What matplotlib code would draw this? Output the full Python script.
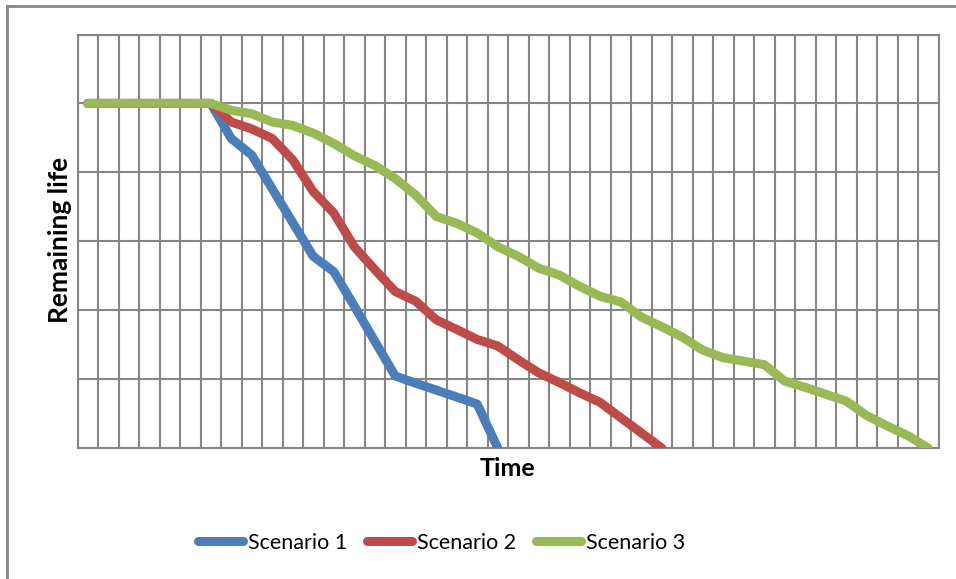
import numpy as np
import matplotlib
matplotlib.use("Agg")
from matplotlib import pyplot as plt
from matplotlib.lines import Line2D

plt.rcParams["font.family"] = ["Lato", "DejaVu Sans"]

# remaining life per time step (42 steps, scale 0..6)
scenario_1 = [5, 5, 5, 5, 5, 5, 5, 4.49, 4.25, 3.76, 3.27, 2.78, 2.56, 2.06,
              1.55, 1.045, 0.94, 0.84, 0.74, 0.636, 0.0]
scenario_2 = [5, 5, 5, 5, 5, 5, 5, 4.73, 4.63, 4.49, 4.18, 3.72, 3.41, 2.92,
              2.59, 2.27, 2.13, 1.86, 1.72, 1.575, 1.48, 1.28, 1.09, 0.95,
              0.80, 0.66, 0.44, 0.22, 0.0]
scenario_3 = [5, 5, 5, 5, 5, 5, 5, 4.90, 4.85, 4.73, 4.68, 4.57, 4.42, 4.24,
              4.10, 3.91, 3.67, 3.36, 3.26, 3.12, 2.92, 2.78, 2.61, 2.51,
              2.345, 2.20, 2.12, 1.90, 1.76, 1.61, 1.42, 1.31, 1.26, 1.21,
              0.97, 0.88, 0.78, 0.68, 0.47, 0.32, 0.18, 0.0]
n_steps = 42

series = [("Scenario 1", scenario_1, "#4A7EBB"),
          ("Scenario 2", scenario_2, "#BE4B48"),
          ("Scenario 3", scenario_3, "#98B954")]

grid_col = "#868686"

fig = plt.figure(figsize=(9.56, 5.79), dpi=100)
ax = fig.add_axes([77.5 / 956, 1 - 448 / 579, 861 / 956, 413.5 / 579])

for name, vals, col in series:
    ax.plot(np.arange(len(vals)), vals, color=col, lw=6.5, label=name,
            solid_capstyle="round", solid_joinstyle="round", zorder=3)

ax.set_xlim(-0.5, n_steps - 0.5)
ax.set_ylim(0, 6)
ax.set_xticks(np.arange(-0.5, n_steps, 1.0))
ax.set_yticks(np.arange(0, 7, 1))
ax.tick_params(length=0, labelleft=False, labelbottom=False)
ax.grid(True, color=grid_col, lw=1.5)
ax.set_axisbelow(True)
for sp in ax.spines.values():
    sp.set_color(grid_col)
    sp.set_linewidth(1.5)

fig.text(60 / 956, 1 - 240 / 579, "Remaining life", rotation=90,
         ha="center", va="center", fontsize=19, fontweight="bold")
fig.text(507 / 956, 1 - 469 / 579, "Time", ha="center", va="center",
         fontsize=18, fontweight="bold")

leg = fig.legend(loc="center", bbox_to_anchor=(441.5 / 956, 1 - 543 / 579),
                 ncol=3, frameon=False, fontsize=15.5, handlelength=2.1,
                 handletextpad=0.2, columnspacing=0.95)
for h in leg.get_lines():
    h.set_linewidth(6.5)
    h.set_solid_capstyle("round")

# outer chart border (only top and left edges are visible)
fig.add_artist(Line2D([7 / 956, 7 / 956], [0, 1 - 5.5 / 579], color=grid_col,
                      lw=2, transform=fig.transFigure))
fig.add_artist(Line2D([7 / 956, 1], [1 - 5.5 / 579, 1 - 5.5 / 579],
                      color=grid_col, lw=2, transform=fig.transFigure))

fig.savefig("out.png", dpi=100)
